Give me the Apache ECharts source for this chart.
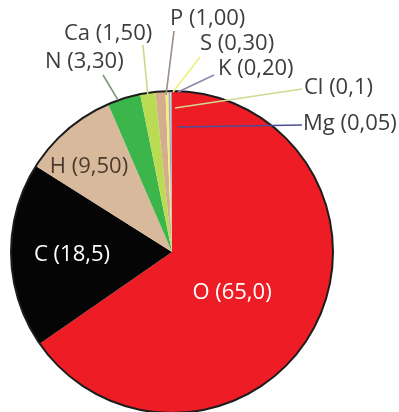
<!DOCTYPE html>
<html>
<head>
<meta charset="utf-8">
<style>
  html, body { margin: 0; padding: 0; background: #ffffff; }
  #chart { width: 399px; height: 412px; }
</style>
<script src="https://cdn.jsdelivr.net/npm/echarts@6/dist/echarts.min.js"></script>
</head>
<body>
<div id="chart"></div>
<script>
// Element composition of the human body (% of mass)
const elements = ['O', 'C', 'H', 'N', 'Ca', 'P', 'S', 'K', 'Cl', 'Mg'];
const massShare = [65.0, 18.5, 9.5, 3.3, 1.5, 1.0, 0.3, 0.2, 0.1, 0.05];
const shareText = ['65,0', '18,5', '9,50', '3,30', '1,50', '1,00', '0,30', '0,20', '0,1', '0,05'];

const sliceColors = ['#ee1c24', '#050505', '#d9b99b', '#3cb54a', '#b9dc52', '#d4ae8c', '#f3ef7a', '#a9a0c8', '#e6e39a', '#4b4a9c'];
const leaderColors = [null, null, null, '#7f9a7a', '#c9d98a', '#9e8f86', '#eef27a', '#8d88a8', '#d3d890', '#4e4e96'];

const CENTER = [172, 252];
const RADIUS = 161;

// label placement: [x, middle y], optional leader line [pie end, text end]
const labelPlace = {
  O:  { x: 232, y: 293, align: 'center', color: '#ffffff' },
  C:  { x: 72,  y: 255, align: 'center', color: '#ffffff' },
  H:  { x: 89,  y: 167, align: 'center', color: '#4a3b2c' },
  N:  { x: 45,  y: 62,  align: 'left', line: [[118, 100], [103, 75]] },
  Ca: { x: 64,  y: 34,  align: 'left', line: [[148, 97], [143, 45]] },
  P:  { x: 170, y: 19,  align: 'left', line: [[166, 95], [174, 31]] },
  S:  { x: 200, y: 44,  align: 'left', line: [[173, 92], [200, 57]] },
  K:  { x: 218, y: 69,  align: 'left', line: [[178, 92], [214, 75]] },
  Cl: { x: 304, y: 88,  align: 'left', line: [[175, 108], [302, 89]] },
  Mg: { x: 303, y: 124, align: 'left', line: [[178, 127], [302, 125]] }
};

// filled slices
const sliceData = elements.map((name, i) => ({
  name: name,
  value: massShare[i],
  itemStyle: { color: sliceColors[i] }
}));

// same slices, transparent, carrying the labels and leader lines on top
const labelData = elements.map((name, i) => {
  const place = labelPlace[name];
  const inside = !place.line;
  return {
    name: name,
    value: massShare[i],
    label: {
      position: inside ? 'inside' : 'outside',
      color: place.color || '#3d3d3d'
    },
    labelLine: inside ? { show: false } : {
      show: true,
      lineStyle: { color: leaderColors[i], width: 1.6 }
    }
  };
});

const chart = echarts.init(document.getElementById('chart'), null, { renderer: 'canvas' });

chart.setOption({
  backgroundColor: '#ffffff',
  animation: false,
  series: [
    {
      type: 'pie',
      z: 2,
      center: CENTER,
      radius: [0, RADIUS],
      startAngle: 90,
      clockwise: true,
      silent: true,
      itemStyle: { borderWidth: 0 },
      label: { show: false },
      labelLine: { show: false },
      data: sliceData
    },
    {
      // dark outline around the disc
      type: 'pie',
      z: 3,
      center: CENTER,
      radius: [RADIUS - 1, RADIUS + 1],
      silent: true,
      label: { show: false },
      labelLine: { show: false },
      itemStyle: { color: '#1c1c1c' },
      data: [{ value: 1, name: 'outline' }]
    },
    {
      type: 'pie',
      z: 5,
      center: CENTER,
      radius: [0, RADIUS],
      startAngle: 90,
      clockwise: true,
      silent: true,
      avoidLabelOverlap: false,
      itemStyle: { color: 'rgba(0,0,0,0)', borderWidth: 0 },
      label: {
        show: true,
        fontFamily: 'Open Sans',
        fontSize: 22,
        formatter: p => p.name + ' (' + shareText[p.dataIndex] + ')'
      },
      labelLine: { show: true },
      labelLayout: function (params) {
        const place = labelPlace[elements[params.dataIndex]];
        const out = {
          x: place.x,
          y: place.y,
          align: place.align,
          verticalAlign: 'middle'
        };
        if (place.line) {
          out.labelLinePoints = [place.line[0], place.line[1], place.line[1]];
        }
        return out;
      },
      data: labelData
    }
  ]
});
</script>
</body>
</html>
